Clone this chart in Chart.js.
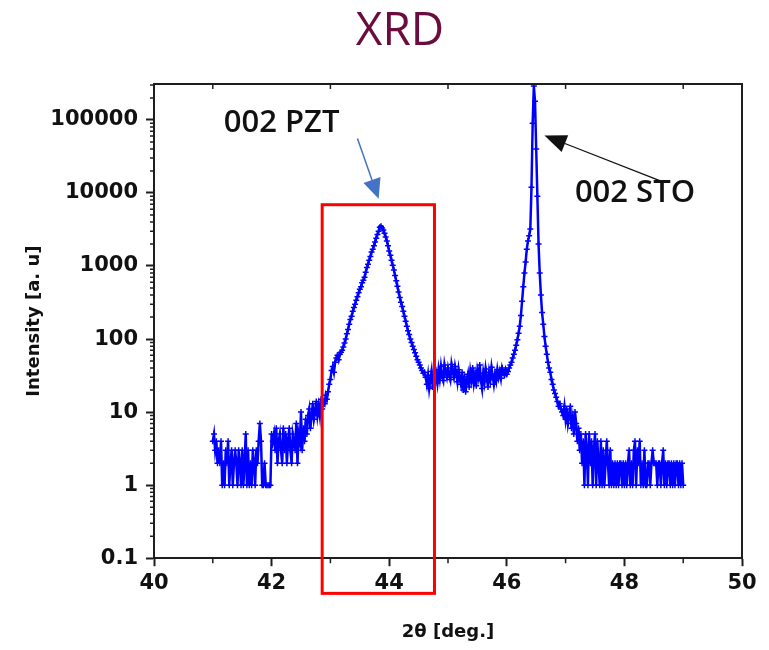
<!DOCTYPE html>
<html>
<head>
<meta charset="utf-8">
<title>XRD</title>
<script src="https://cdn.jsdelivr.net/npm/chart.js@4.4.1/dist/chart.umd.min.js"></script>
<style>
html, body { margin: 0; padding: 0; background: #fff; }
#wrap { width: 769px; height: 650px; position: relative; }
</style>
</head>
<body>
<div id="wrap"><canvas id="xrd-chart"></canvas></div>
<script>
// scan: 41.00 .. 49.00 deg, 0.02 deg per step
const angleStart = 41.0;
const angleStep = 0.02;

// counts, 10 per row (0.2 deg per row)
const intensity = [
  4, 5, 3, 4, 2, 3, 2, 4, 1, 2,
  1, 3, 2, 4, 1, 2, 3, 1, 2, 3,
  2, 1, 3, 2, 1, 3, 1, 2, 5, 1,
  3, 1, 2, 1, 3, 2, 1, 3, 2, 4,
  7, 4, 1, 1, 2, 1, 1, 1, 1, 1,
  5, 4, 5, 3, 6, 2, 4, 5, 3, 2,
  6, 3, 5, 2, 4, 6, 3, 2, 5, 4,
  3, 7, 2, 5, 4, 10, 3, 6, 4, 8,
  5, 9, 11, 6, 9, 13, 8, 10, 14, 9,
  12, 9, 15, 11, 14, 13, 17, 15, 19, 24,
  28, 37, 42, 35, 48, 55, 60, 52, 62, 66,
  70, 78, 88, 100, 118, 135, 160, 185, 205, 240,
  270, 300, 340, 380, 430, 480, 520, 590, 640, 700,
  820, 950, 1060, 1200, 1350, 1550, 1700, 1900, 2130, 2400,
  2700, 3000, 3400, 3500, 3300, 3100, 2800, 2500, 2200, 1900,
  1600, 1400, 1200, 1020, 880, 740, 630, 530, 440, 370,
  320, 280, 240, 205, 175, 150, 130, 115, 100, 90,
  80, 72, 65, 58, 52, 48, 44, 40, 37, 34,
  35, 30, 24, 32, 21, 28, 36, 22, 30, 26,
  33, 25, 38, 29, 42, 31, 27, 44, 35, 30,
  40, 33, 28, 45, 36, 30, 42, 34, 26, 38,
  29, 24, 35, 20, 31, 19, 27, 33, 22, 36,
  28, 40, 25, 32, 23, 37, 30, 44, 27, 21,
  34, 26, 39, 30, 22, 35, 28, 41, 31, 24,
  33, 27, 38, 30, 36, 29, 40, 35, 32, 38,
  33, 36, 40, 44, 48, 55, 62, 70, 82, 98,
  120, 150, 210, 330, 520, 800, 1130, 1700, 2200, 2600,
  3200, 12000, 90000, 290000, 180000, 40000, 9000, 2000, 800, 400,
  230, 160, 108, 80, 62, 48, 40, 35, 28, 24,
  20, 18, 16, 14, 12, 13, 11, 10, 9, 12,
  8, 11, 7, 9, 12, 6, 8, 5, 10, 7,
  4, 6, 3, 5, 2, 4, 1, 5, 3, 1,
  5, 2, 4, 1, 3, 5, 1, 4, 2, 1,
  4, 1, 3, 1, 2, 4, 2, 1, 3, 1,
  2, 1, 2, 1, 2, 1, 2, 2, 1, 2,
  1, 2, 1, 2, 3, 1, 2, 1, 3, 4,
  1, 3, 2, 4, 1, 2, 1, 3, 1, 1,
  2, 2, 1, 2, 3, 2, 2, 2, 1, 2,
  2, 1, 2, 3, 1, 2, 1, 2, 2, 1,
  2, 1, 2, 1, 2, 2, 1, 2, 1, 2,
  1
];

const yTickValues = [0.1, 1, 10, 100, 1000, 10000, 100000];
const yTickLabels = ['0.1', '1', '10', '100', '1000', '10000', '100000'];
const xTickStep = 2;

// annotations (data coordinates)
const pztBox = { x1: 42.86, x2: 44.77, yTop: 6900, yBottom: 0.033 };
const pztLabel = { text: '002 PZT', x: 42.17, y: 89000 };
const stoLabel = { text: '002 STO', x: 48.18, y: 9800 };
const pztArrow = { x1: 43.46, y1: 55600, x2: 43.82, y2: 8300 };
const stoArrow = { x1: 48.6, y1: 14700, x2: 46.64, y2: 61200 };

const points = intensity.map(function (v, i) {
  return { x: +(angleStart + i * angleStep).toFixed(2), y: v };
});

const tickFont = { family: '"DejaVu Sans", sans-serif', size: 21, weight: 'bold' };
const titleFont = { family: '"DejaVu Sans", sans-serif', size: 18, weight: 'bold' };
const frameColor = '#1e1e1e';

function drawArrow(ctx, x1, y1, x2, y2, color, lw, headLen, headW) {
  const ang = Math.atan2(y2 - y1, x2 - x1);
  const bx = x2 - headLen * Math.cos(ang);
  const by = y2 - headLen * Math.sin(ang);
  ctx.save();
  ctx.strokeStyle = color;
  ctx.fillStyle = color;
  ctx.lineWidth = lw;
  ctx.beginPath();
  ctx.moveTo(x1, y1);
  ctx.lineTo(bx, by);
  ctx.stroke();
  ctx.beginPath();
  ctx.moveTo(x2, y2);
  ctx.lineTo(bx + headW / 2 * Math.sin(ang), by - headW / 2 * Math.cos(ang));
  ctx.lineTo(bx - headW / 2 * Math.sin(ang), by + headW / 2 * Math.cos(ang));
  ctx.closePath();
  ctx.fill();
  ctx.restore();
}

const decorations = {
  id: 'decorations',
  afterDraw: function (chart) {
    const ctx = chart.ctx;
    const xs = chart.scales.x, ys = chart.scales.y;
    const a = chart.chartArea;

    // top and right frame
    ctx.save();
    ctx.strokeStyle = frameColor;
    ctx.lineWidth = 2;
    ctx.beginPath();
    ctx.moveTo(a.left - 1, a.top);
    ctx.lineTo(a.right, a.top);
    ctx.lineTo(a.right, a.bottom + 1);
    ctx.stroke();

    // minor ticks
    ctx.lineWidth = 1.5;
    ctx.beginPath();
    for (let v = 41; v < 50; v += 2) {
      const px = xs.getPixelForValue(v);
      ctx.moveTo(px, a.bottom);
      ctx.lineTo(px, a.bottom + 5);
      ctx.moveTo(px, a.top);
      ctx.lineTo(px, a.top + 5);
    }
    for (let d = 0.1; d < 1e6; d *= 10) {
      for (let m = 2; m <= 9; m++) {
        const val = d * m;
        if (val > ys.max) break;
        const py = ys.getPixelForValue(val);
        ctx.moveTo(a.left, py);
        ctx.lineTo(a.left - 4, py);
      }
    }
    ctx.stroke();
    ctx.restore();

    // red box round the PZT peak
    ctx.save();
    const bx1 = xs.getPixelForValue(pztBox.x1), bx2 = xs.getPixelForValue(pztBox.x2);
    const by1 = ys.getPixelForValue(pztBox.yTop), by2 = ys.getPixelForValue(pztBox.yBottom);
    ctx.strokeStyle = '#ff0000';
    ctx.lineWidth = 3;
    ctx.strokeRect(bx1, by1, bx2 - bx1, by2 - by1);
    ctx.restore();

    // arrows
    drawArrow(ctx, xs.getPixelForValue(pztArrow.x1), ys.getPixelForValue(pztArrow.y1),
      xs.getPixelForValue(pztArrow.x2), ys.getPixelForValue(pztArrow.y2), '#4472c4', 1.5, 20, 18);
    drawArrow(ctx, xs.getPixelForValue(stoArrow.x1), ys.getPixelForValue(stoArrow.y1),
      xs.getPixelForValue(stoArrow.x2), ys.getPixelForValue(stoArrow.y2), '#111111', 1.3, 22, 18);

    // peak labels
    ctx.save();
    ctx.fillStyle = '#111111';
    ctx.font = '600 31px "Open Sans", sans-serif';
    ctx.textAlign = 'center';
    ctx.textBaseline = 'middle';
    [pztLabel, stoLabel].forEach(function (l) {
      ctx.fillText(l.text, xs.getPixelForValue(l.x), ys.getPixelForValue(l.y));
    });
    ctx.restore();

    // chart title
    ctx.save();
    ctx.fillStyle = '#6a0c3e';
    ctx.font = '46px "Open Sans", sans-serif';
    ctx.textAlign = 'center';
    ctx.textBaseline = 'alphabetic';
    ctx.fillText('XRD', 400, 45);
    ctx.restore();
  }
};

new Chart(document.getElementById('xrd-chart'), {
  type: 'line',
  data: {
    datasets: [{
      label: 'XRD scan',
      data: points,
      borderColor: '#0000ff',
      backgroundColor: '#0000ff',
      borderWidth: 2.5,
      pointStyle: 'cross',
      pointRadius: 3,
      pointBorderWidth: 1.5,
      pointBorderColor: '#0000ff',
      tension: 0,
      fill: false
    }]
  },
  options: {
    responsive: true,
    maintainAspectRatio: false,
    animation: false,
    devicePixelRatio: 1,
    layout: { padding: { top: 84, right: 27, left: 20, bottom: 7 } },
    plugins: {
      legend: { display: false },
      title: { display: false },
      tooltip: { enabled: false }
    },
    scales: {
      x: {
        type: 'linear',
        position: 'bottom',
        min: 40,
        max: 50,
        ticks: { stepSize: xTickStep, font: tickFont, color: '#111', padding: 5, maxRotation: 0 },
        grid: { drawOnChartArea: false, tickLength: 8, tickWidth: 2, tickColor: frameColor },
        border: { color: frameColor, width: 2 },
        title: { display: true, text: '2θ [deg.]', font: titleFont, color: '#111', padding: { top: 20, bottom: 0 } }
      },
      y: {
        type: 'logarithmic',
        min: 0.1,
        max: 310000,
        afterBuildTicks: function (scale) {
          scale.ticks = yTickValues.map(function (v) { return { value: v }; });
        },
        afterFit: function (scale) { scale.width = 134; },
        ticks: {
          font: tickFont,
          color: '#111',
          padding: 8,
          callback: function (v, i) { return yTickLabels[i]; }
        },
        grid: { drawOnChartArea: false, tickLength: 8, tickWidth: 2, tickColor: frameColor },
        border: { color: frameColor, width: 2 },
        title: { display: true, text: 'Intensity [a. u]', font: titleFont, color: '#111', padding: { top: 4, bottom: 4 } }
      }
    }
  },
  plugins: [decorations]
});
</script>
</body>
</html>
